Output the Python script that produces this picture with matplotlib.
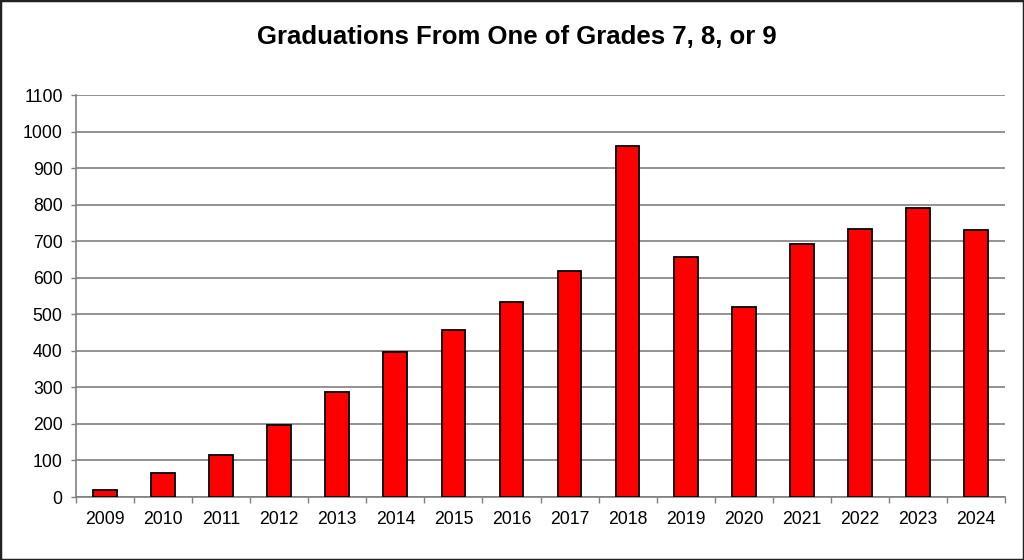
import matplotlib.pyplot as plt
import numpy as np
from matplotlib.patches import Rectangle

plt.rcParams['font.family'] = ['Liberation Sans', 'DejaVu Sans']

years = ['2009', '2010', '2011', '2012', '2013', '2014', '2015', '2016',
         '2017', '2018', '2019', '2020', '2021', '2022', '2023', '2024']
grads = [20, 66, 114, 196, 286, 397, 456, 533,
         618, 961, 656, 521, 692, 734, 791, 730]

fig = plt.figure(figsize=(10.24, 5.6), dpi=100)
ax = fig.add_axes([76/1024, 1 - 497/560, (1005-76)/1024, (497-95)/560])

x = np.arange(len(years))
ax.bar(x, grads, width=0.41, color='#ff0000', edgecolor='black', linewidth=1.3, zorder=3)

ax.set_xlim(-0.5, len(years) - 0.5)
ax.set_ylim(0, 1100)
ax.set_yticks(np.arange(0, 1101, 100))
ax.yaxis.grid(True, color='#808080', linewidth=1.2, zorder=0)

ax.set_xticks(x)
ax.set_xticklabels(years)
ax.set_xticks(np.arange(-0.5, len(years)), minor=True)
ax.tick_params(axis='x', which='major', length=0, labelsize=12.7, pad=10)
ax.tick_params(axis='x', which='minor', length=4.3, color='#808080', width=1)
ax.tick_params(axis='y', length=3.6, color='#808080', width=1, labelsize=12.7, pad=6)

for s in ['top', 'right']:
    ax.spines[s].set_visible(False)
for s in ['left', 'bottom']:
    ax.spines[s].set_color('#808080')
    ax.spines[s].set_linewidth(1.2)

fig.text(0.505, 1 - 44.5/560, 'Graduations From One of Grades 7, 8, or 9',
         ha='center', va='baseline', fontsize=18.5, fontweight='bold')

fig.patches.append(Rectangle((0, 0), 1, 1, transform=fig.transFigure,
                             fill=False, edgecolor='#222222', linewidth=2.5))

fig.savefig('out.png', dpi=100)
